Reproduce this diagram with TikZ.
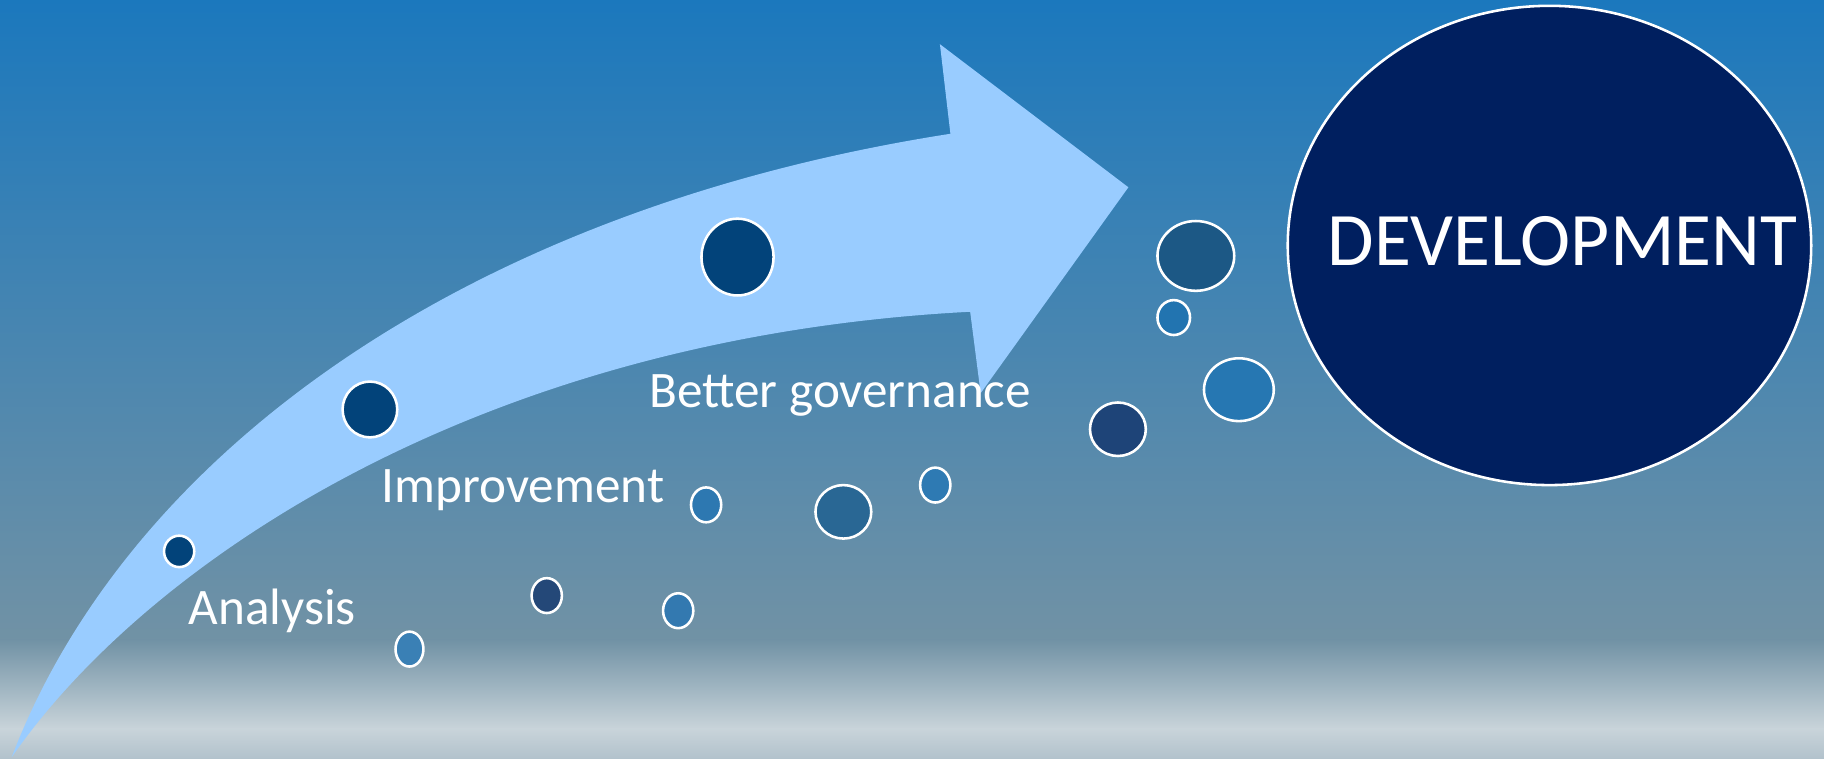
\documentclass[tikz,border=0pt]{standalone}
\usepackage{fontspec}
\usetikzlibrary{shapes.geometric}
\setmainfont{Carlito}
\definecolor{bgtop}{HTML}{1B78BD}
\definecolor{bgmid}{HTML}{7192A5}
\definecolor{bglight}{HTML}{C9D4DA}
\definecolor{bgbot}{HTML}{B2C2CC}
\definecolor{arrowblue}{HTML}{99CCFF}
\definecolor{navy}{HTML}{001F5F}
\definecolor{cA}{HTML}{02437A}
\definecolor{cB}{HTML}{3A80B5}
\definecolor{cC}{HTML}{244878}
\definecolor{cD}{HTML}{3379B0}
\definecolor{cE}{HTML}{2D78B1}
\definecolor{cF}{HTML}{296794}
\definecolor{cG}{HTML}{2E7AB3}
\definecolor{cH}{HTML}{1E4478}
\definecolor{cI}{HTML}{1C5885}
\definecolor{cJ}{HTML}{2274B0}
\definecolor{cK}{HTML}{2677B2}
\tikzset{
  bubble/.style={draw=white, line width=2.2pt},
  label/.style={text=white, font=\fontsize{44}{52}\selectfont, anchor=base west, inner sep=0pt},
}
\begin{document}
\begin{tikzpicture}[x=1pt,y=-1pt]
\useasboundingbox (0,0) rectangle (1568,652);
% background
\shade[top color=bgtop, bottom color=bgmid] (0,0) rectangle (1568,551);
\shade[top color=bgmid, bottom color=bglight] (0,550) rectangle (1568,627);
\shade[top color=bglight, bottom color=bgbot] (0,626) rectangle (1568,652);
% curved arrow
\fill[arrowblue] (10,651) .. controls (110,390) and (400,180) .. (817,115)
  -- (808,38) -- (970,161) -- (843,338) -- (834,268)
  .. controls (410,290) and (125,485) .. (10,651) -- cycle;
% bubbles
\filldraw[bubble, fill=cA] (154,474) ellipse [x radius=13, y radius=13.5];
\filldraw[bubble, fill=cA] (318,352) ellipse [x radius=23.5, y radius=24];
\filldraw[bubble, fill=cA] (634,221) ellipse [x radius=31, y radius=33];
\filldraw[bubble, fill=cB] (352,558) ellipse [x radius=12, y radius=15];
\filldraw[bubble, fill=cC] (470,512) ellipse [x radius=13, y radius=15];
\filldraw[bubble, fill=cD] (583,525) ellipse [x radius=13, y radius=15];
\filldraw[bubble, fill=cE] (607,434) ellipse [x radius=13, y radius=15];
\filldraw[bubble, fill=cF] (725,440) ellipse [x radius=24, y radius=23];
\filldraw[bubble, fill=cG] (804,417) ellipse [x radius=13, y radius=15];
\filldraw[bubble, fill=cH] (961,369) ellipse [x radius=24, y radius=23];
\filldraw[bubble, fill=cI] (1028,220) ellipse [x radius=33, y radius=30];
\filldraw[bubble, fill=cJ] (1009,273) ellipse [x radius=14, y radius=15];
\filldraw[bubble, fill=cK] (1065,335) ellipse [x radius=30, y radius=27];
% development ellipse
\node[draw=white, line width=2.2pt, fill=navy, ellipse, minimum width=450, minimum height=412, inner sep=0pt] (dev) at (1332,211) {};
\node[text=white, font=\fontsize{65}{78}\selectfont, anchor=base west, inner sep=0pt] (devtext) at (1141,228) {DEVELOPMENT};
% labels
\node[label] (gov) at (558,350) {Better governance};
\node[label] (imp) at (328,432) {Improvement};
\node[label] (ana) at (162,537) {Analysis};
\end{tikzpicture}
\end{document}
